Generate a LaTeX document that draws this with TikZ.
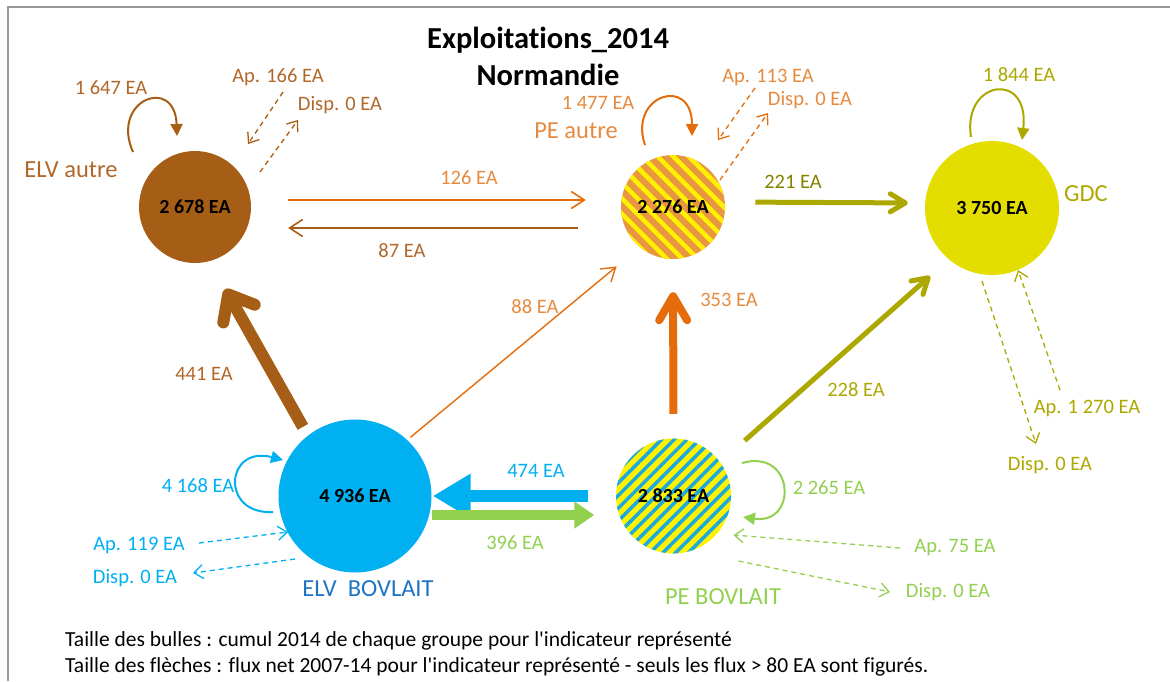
\documentclass[tikz,border=0pt]{standalone}
\usepackage{fontspec}
\setmainfont{Carlito}[Ligatures={TeXOff,CommonOff}]
\usetikzlibrary{arrows.meta,patterns.meta,calc}

\definecolor{elvbrown}{HTML}{A65E16}
\definecolor{elvbrowntxt}{HTML}{B0682A}
\definecolor{peorange}{HTML}{E46C0A}
\definecolor{peorangetxt}{HTML}{E58A3E}
\definecolor{pefill}{HTML}{E8963F}
\definecolor{peyellow}{HTML}{FFF200}
\definecolor{gdcyellow}{HTML}{E3DE00}
\definecolor{gdcolive}{HTML}{ADA800}
\definecolor{gdcdark}{HTML}{858200}
\definecolor{elvblue}{HTML}{00B0F0}
\definecolor{elvbluetxt}{HTML}{1E74C4}
\definecolor{pebstripe}{HTML}{1CA9DE}
\definecolor{pegreen}{HTML}{92D050}
\definecolor{framegray}{HTML}{9A9A9A}

\newcommand\lblfont{\fontsize{20.5}{22}\selectfont}
\newcommand\grpfont{\fontsize{24.5}{26}\selectfont}
\newcommand\bubblefont{\fontsize{20}{21}\selectfont\bfseries}
\newcommand\titlefont{\fontsize{30.5}{34}\selectfont\bfseries}
\newcommand\notefont{\fontsize{21.5}{23}\selectfont}

\tikzset{
  bubble/.style={circle, inner sep=0pt, font=\bubblefont, text=black},
  lbl/.style={font=\lblfont, inner sep=0pt},
  grp/.style={font=\grpfont, inner sep=0pt},
  note/.style={font=\notefont, inner sep=0pt, anchor=west},
  thin flow/.style={line width=1.6pt, -{Straight Barb[length=13pt,width=17pt]}},
  dash flow/.style={line width=1.3pt, dash pattern=on 5pt off 4pt, -{Straight Barb[length=9pt,width=14pt]}},
  self loop/.style={line width=2pt, -{Triangle[length=12pt,width=12pt]}},
}

\begin{document}
\begin{tikzpicture}[x=1pt, y=-1pt]
    \useasboundingbox (0,0) rectangle (1170,681);
    % Frame
    \draw[framegray, line width=2pt] (8,681) -- (8,7) -- (1170,7);
    % Title
    \node[font=\titlefont] (title) at (548,40) {Exploitations\_2014};
    \node[font=\titlefont] (region) at (548,75) {Normandie};
    % Bubbles
    \node[bubble, fill=elvbrown, minimum size=112pt] (elva) at (195,207) {2 678 EA};
    \node[bubble, minimum size=104pt, preaction={fill=pefill},
          pattern={Lines[angle=-45,distance=11pt,line width=4.5pt]}, pattern color=peyellow] (pea) at (673,207) {};
    \node[bubble] at (pea) {2 276 EA};
    \node[bubble, fill=gdcyellow, minimum size=134pt] (gdc) at (992,208) {3 750 EA};
    \node[bubble, fill=elvblue, minimum size=153pt] (elvb) at (355,496) {4 936 EA};
    \node[bubble, minimum size=115pt, preaction={fill=peyellow},
          pattern={Lines[angle=45,distance=9pt,line width=3.5pt]}, pattern color=pebstripe] (peb) at (673.5,496) {};
    \node[bubble] at (peb) {2 833 EA};
    % Group names
    \node[grp, text=elvbrowntxt] (elvaname) at (71,170) {ELV autre};
    \node[grp, text=peorangetxt] (peaname) at (576,131) {PE autre};
    \node[grp, text=gdcolive] (gdcname) at (1086,194) {GDC};
    \node[grp, text=elvbluetxt] (elvbname) at (368,589) {ELV\ \ BOVLAIT};
    \node[grp, text=pegreen] (pebname) at (723,597) {PE BOVLAIT};
    % Self flows
    \node[lbl, text=elvbrowntxt] (selfelva) at (111,88) {1 647 EA};
    \node[lbl, text=peorangetxt] (selfpea) at (598,103) {1 477 EA};
    \node[lbl, text=gdcolive] (selfgdc) at (1019,75) {1 844 EA};
    \node[lbl, text=elvblue] (selfelvb) at (198,486) {4 168 EA};
    \node[lbl, text=pegreen] (selfpeb) at (829,488) {2 265 EA};
    \draw[self loop, elvbrown] ($(elva)+(-62,-55)$) .. controls ($(elva)+(-85,-107)$) and ($(elva)+(-20,-132)$) .. ($(elva)+(-18,-71)$);
    \draw[self loop, peorange] ($(pea)+(-28,-62)$) .. controls ($(pea)+(-45,-112)$) and ($(pea)+(19,-132)$) .. ($(pea)+(19,-71)$);
    \draw[self loop, gdcolive] ($(gdc)+(-21,-71)$) .. controls ($(gdc)+(-30,-128)$) and ($(gdc)+(38,-138)$) .. ($(gdc)+(30,-68)$);
    \draw[self loop, elvblue] ($(elvb)+(-82,16)$) .. controls ($(elvb)+(-135,19)$) and ($(elvb)+(-130,-51)$) .. ($(elvb)+(-72,-36)$);
    \draw[self loop, pegreen] ($(peb)+(68.5,-33)$) .. controls ($(peb)+(121.5,-48)$) and ($(peb)+(124.5,29)$) .. ($(peb)+(69.5,21)$);
    % Arrivals and departures
    \node[lbl, text=elvbrowntxt] (apelva) at (278,77) {Ap. 166 EA};
    \node[lbl, text=elvbrowntxt] (dpelva) at (340,105) {Disp. 0 EA};
    \node[lbl, text=peorangetxt] (appea) at (768,77) {Ap. 113 EA};
    \node[lbl, text=peorangetxt] (dppea) at (810,100) {Disp. 0 EA};
    \node[lbl, text=gdcolive] (apgdc) at (1087,408) {Ap. 1 270 EA};
    \node[lbl, text=gdcolive] (dpgdc) at (1050,465) {Disp. 0 EA};
    \node[lbl, text=elvblue] (apelvb) at (139,545) {Ap. 119 EA};
    \node[lbl, text=elvblue] (dpelvb) at (135,578) {Disp. 0 EA};
    \node[lbl, text=pegreen] (appeb) at (955,548) {Ap. 75 EA};
    \node[lbl, text=pegreen] (dppeb) at (948,592) {Disp. 0 EA};
    \draw[dash flow, elvbrown] ($(apelva)+(5,15)$) -- ($(elva)+(53,-63)$);
    \draw[dash flow, elvbrown] ($(elva)+(65,-35)$) -- ($(dpelva)+(-42,15)$);
    \draw[dash flow, peorange] ($(appea)+(-13,11)$) -- ($(pea)+(45,-67)$);
    \draw[dash flow, peorange] ($(pea)+(47,-27)$) -- ($(dppea)+(-42,13)$);
    \draw[dash flow, gdcolive] ($(apgdc)+(-27,-18)$) -- ($(gdc)+(26,62)$);
    \draw[dash flow, gdcolive] ($(gdc)+(-10,73)$) -- ($(dpgdc)+(-14,-21)$);
    \draw[dash flow, elvblue] ($(apelvb)+(60,-2)$) -- ($(elvb)+(-67,36)$);
    \draw[dash flow, elvblue] ($(elvb)+(-60,63)$) -- ($(dpelvb)+(58,-5)$);
    \draw[dash flow, pegreen] ($(appeb)+(-55,0)$) -- ($(peb)+(60,39)$);
    \draw[dash flow, pegreen] ($(peb)+(65,65)$) -- ($(dppeb)+(-58,0)$);
    % Net flows between groups
    \draw[thin flow, peorange, shorten <=37pt, shorten >=33pt] ([yshift=7pt]elva.east) -- ([yshift=7pt]pea.west);
    \node[lbl, text=peorangetxt] (f126) at (469,178) {126 EA};
    \draw[thin flow, elvbrown, shorten <=41pt, shorten >=37pt] ([yshift=-21pt]pea.west) -- ([yshift=-21pt]elva.east);
    \node[lbl, text=elvbrowntxt] (f87) at (402,251) {87 EA};
    \draw[gdcolive, line width=5pt, -{Straight Barb[round,length=15pt,width=18pt]}, shorten <=28pt, shorten >=17pt] ([yshift=5pt]pea.east) -- ([yshift=5pt]gdc.west);
    \node[lbl, text=gdcdark] (f221) at (793,182) {221 EA};
    \draw[thin flow, peorange, line width=1.4pt, shorten <=4pt, shorten >=28pt] (elvb.47) -- (pea.230);
    \node[lbl, text=peorangetxt] (f88) at (535,307) {88 EA};
    \draw[peorange, line width=8pt, -{Straight Barb[round,length=24pt,width=28pt]}, shorten <=23pt, shorten >=31pt] (peb.north) -- (pea.south);
    \node[lbl, text=peorangetxt] (f353) at (729,300) {353 EA};
    \draw[elvbrown, line width=12pt, -{Straight Barb[round,length=22pt,width=36pt]}, shorten <=10pt, shorten >=32pt] (elvb.128) -- (elva.-75);
    \node[lbl, text=elvbrowntxt] (f441) at (204,374) {441 EA};
    \draw[gdcolive, line width=5pt, -{Straight Barb[round,length=15pt,width=18pt]}, shorten <=31pt, shorten >=25pt] (peb.36) -- (gdc.230);
    \node[lbl, text=gdcolive] (f228) at (856,390) {228 EA};
    \draw[elvblue, line width=12pt, -{Triangle[length=38pt,width=42pt]}, shorten <=26pt, shorten >=1pt] (peb.west) -- (elvb.east);
    \node[lbl, text=elvblue] (f474) at (536,471) {474 EA};
    \draw[pegreen, line width=10pt, -{Triangle[length=20pt,width=26pt]}, shorten >=20pt] ([yshift=-19pt]elvb.east) -- ([yshift=-19pt]peb.west);
    \node[lbl, text=pegreen] (f396) at (515,543) {396 EA};
    % Notes
    \node[note] (note1) at (65,641) {Taille des bulles : cumul 2014 de chaque groupe pour l'indicateur représenté};
    \node[note] (note2) at (65,667) {Taille des flèches : flux net 2007-14 pour l'indicateur représenté - seuls les flux > 80 EA sont figurés.};
\end{tikzpicture}
\end{document}
